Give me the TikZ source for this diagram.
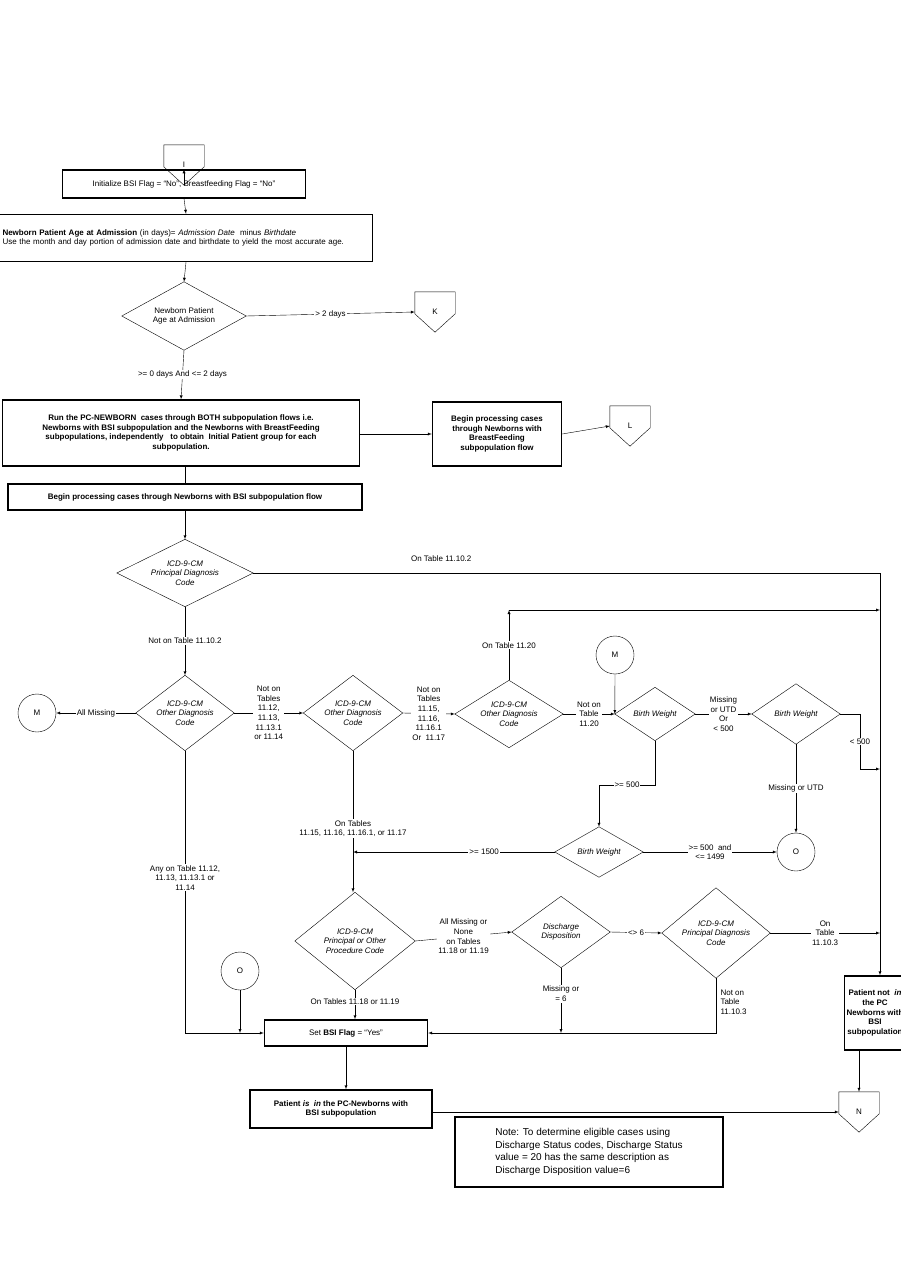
\documentclass[tikz,border=0pt]{standalone}
\usepackage{fontspec}
\setmainfont{Liberation Sans}
\usetikzlibrary{calc,positioning,arrows}

\begin{document}
\begin{tikzpicture}[x=1pt,y=-1pt,>=latex,thin,font=\fontsize{8}{9.6}\selectfont]
	\tikzstyle{box}=[draw,line width=1.4pt,inner sep=2pt,align=center]
	\tikzstyle{cond}=[inner sep=0pt,align=center,font=\fontsize{8}{9.6}\selectfont\itshape]
	\tikzstyle{conn}=[draw,circle,minimum size=38pt,inner sep=0pt]
	\tikzstyle{page}=[minimum width=40pt,minimum height=40pt,inner sep=0pt]
	\tikzstyle{lbl}=[fill=white,inner sep=1pt,align=center]

	\useasboundingbox (0,0) rectangle (901,1287);

	% off-page connectors
	\node[page] (I) at (184,165) {I};
	\node[page] (K) at (435,312) {K};
	\node[page] (L) at (630,426) {L};
	\node[page] (N) at (859,1112) {N};
	\foreach \p in {I,K,L,N}
		\draw (\p.north west) -- (\p.north east) -- ($(\p.north east)+(0,22)$) -- (\p.south) -- ($(\p.north west)+(0,22)$) -- cycle;

	\node[box,minimum width=243pt,minimum height=28pt] (init) at (184,184)
		{Initialize BSI Flag = ``No'', Breastfeeding Flag = ``No''};
	\node[box,minimum width=373pt,minimum height=47pt,align=left,text width=367pt] (age) at (186,238)
		{\textbf{Newborn Patient Age at Admission} (in days)= \textit{Admission Date}\ \ minus \textit{Birthdate}\\
		Use the month and day portion of admission date and birthdate to yield the most accurate age.};
	\node[cond,minimum width=124pt,minimum height=68pt,font=\fontsize{8}{9.6}\selectfont] (d1) at (184,316)
		{Newborn Patient\\Age at Admission};
	\node[box,minimum width=357pt,minimum height=66pt,font=\fontsize{8}{9.6}\selectfont\bfseries] (run) at (181,433)
		{Run the PC-NEWBORN\ \ cases through BOTH subpopulation flows i.e.\\
		Newborns with BSI subpopulation and the Newborns with BreastFeeding\\
		subpopulations, independently\ \ \ to obtain\ \ Initial Patient group for each\\
		subpopulation.};
	\node[box,minimum width=129pt,minimum height=64pt,font=\fontsize{8}{9.6}\selectfont\bfseries] (bf) at (497,434)
		{Begin processing cases\\through Newborns with\\BreastFeeding\\subpopulation flow};
	\node[box,minimum width=354pt,minimum height=26pt,font=\fontsize{8}{9.6}\selectfont\bfseries] (bsi) at (185,497)
		{Begin processing cases through Newborns with BSI subpopulation flow};

	% decisions
	\node[cond,minimum width=136pt,minimum height=67pt] (d2) at (185,573) {ICD-9-CM\\Principal Diagnosis\\Code};
	\node[cond,minimum width=98pt,minimum height=75pt] (d3) at (185,713) {ICD-9-CM\\Other Diagnosis\\Code};
	\node[cond,minimum width=99pt,minimum height=75pt] (d4) at (353,713) {ICD-9-CM\\Other Diagnosis\\Code};
	\node[cond,minimum width=108pt,minimum height=67pt] (d5) at (509,714) {ICD-9-CM\\Other Diagnosis\\Code};
	\node[cond,minimum width=80pt,minimum height=53pt] (d6) at (655,714) {Birth Weight};
	\node[cond,minimum width=88pt,minimum height=60pt] (d7) at (796,714) {Birth Weight};
	\node[cond,minimum width=88pt,minimum height=50pt] (d8) at (599,852) {Birth Weight};
	\node[cond,minimum width=120pt,minimum height=97pt] (d9) at (355,941) {ICD-9-CM\\Principal or Other\\Procedure Code};
	\node[cond,minimum width=98pt,minimum height=71pt] (d10) at (561,932) {Discharge\\Disposition};
	\node[cond,minimum width=108pt,minimum height=90pt] (d11) at (716,933) {ICD-9-CM\\Principal Diagnosis\\Code};
	\foreach \d in {d1,d2,d3,d4,d5,d6,d7,d8,d9,d10,d11}
		\draw (\d.north) -- (\d.east) -- (\d.south) -- (\d.west) -- cycle;

	\node[conn] (M1) at (37,713) {M};
	\node[conn] (M2) at (615,655) {M};
	\node[conn] (O1) at (796,852) {O};
	\node[conn] (O2) at (240,971) {O};

	\node[box,minimum width=163pt,minimum height=26pt] (set) at (346,1033) {Set \textbf{BSI Flag} = ``Yes''};
	\node[box,minimum width=182pt,minimum height=38pt,font=\fontsize{8}{9.6}\selectfont\bfseries] (pis) at (341,1109)
		{Patient \textit{is}\ \ \textit{in} the PC-Newborns with\\BSI subpopulation};
	\node[box,minimum width=56pt,minimum height=74pt,font=\fontsize{8}{9.6}\selectfont\bfseries] (pnot) at (875,1013)
		{Patient not\ \ \textit{in}\\the PC\\Newborns with\\BSI\\subpopulation};
	\node[draw,line width=1.2pt,minimum width=268pt,minimum height=70pt,align=left,inner sep=3pt,
		font=\fontsize{10}{12.5}\selectfont] (note) at (589,1152)
		{Note: To determine eligible cases using\\Discharge Status codes, Discharge Status\\
		value = 20 has the same description as\\Discharge Disposition value=6};

	\coordinate (rA) at (880,573);
	\coordinate (t1) at (509,610);
	\coordinate (t2) at (880,610);

	% connectors
	\draw[->] (I.south) -- (init.north);
	\draw[->] (init.south) -- (age.north);
	\draw[->] (age.south) -- (d1.north);
	\draw[->] (d1.east) -- node[lbl]{> 2 days} (K.west);
	\draw[->] (d1.south) -- node[lbl]{>= 0 days And <= 2 days} (run.north);
	\draw[->] (run.east |- bf.west) -- (bf.west);
	\draw[->] (bf.east) -- (L.west);
	\draw (run.south -| bsi.north) -- (bsi.north);
	\draw[->] (bsi.south) -- (d2.north);
	\draw[->] (d2.east) -- node[above=8pt,pos=0.3]{On Table 11.10.2} (rA) -- (pnot.north -| rA);
	\draw[->] (d2.south) -- node[lbl]{Not on Table 11.10.2} (d3.north);
	\draw[->] (d3.west) -- node[lbl]{All Missing} (M1.east);
	\draw[->] (d3.east) -- node[lbl]{Not on\\Tables\\11.12,\\11.13,\\11.13.1\\or 11.14} (d4.west);
	\draw[->] (d4.east) -- node[lbl]{Not on\\Tables\\11.15,\\11.16,\\11.16.1\\Or\ \ 11.17} (d5.west);
	\draw[->] (d5.north) -- node[lbl]{On Table 11.20} (t1);
	\draw[->] (t1) -- (t2);
	\draw[->] (d5.east) -- node[lbl]{Not on\\Table\\11.20} (d6.west);
	\draw[->] (M2.south) -- (d6.west);
	\draw[->] (d6.east) -- node[lbl]{Missing\\or UTD\\Or\\< 500} (d7.west);
	\draw[->] (d7.east) -- (860,714) -- node[lbl]{< 500} (860,769) -- (880,769);
	\draw[->] (d7.south) -- node[lbl]{Missing or UTD} (O1.north);
	\draw[->] (d6.south) -- (655,785) -- node[lbl]{>= 500} (599,785) -- (d8.north);
	\draw[->] (d8.east) -- node[lbl]{>= 500\ \ and\\<= 1499} (O1.west);
	\draw[->] (d8.west) -- node[lbl,pos=0.35]{>= 1500} (d4.south |- d8.west);
	\draw[->] (d4.south) -- node[lbl,pos=0.55]{On Tables\\11.15, 11.16, 11.16.1, or 11.17} (d9.north -| d4.south);
	\draw[->] (d9.east) -- node[lbl]{All Missing or\\None\\on Tables\\11.18 or 11.19} (d10.west);
	\draw[->] (d9.south) -- node[lbl,pos=0.4]{On Tables 11.18 or 11.19} (d9.south |- set.north);
	\draw[->] (O2.south) -- (O2.south |- set.west);
	\draw[->] (d3.south) -- node[lbl,pos=0.45]{Any on Table 11.12,\\11.13, 11.13.1 or\\11.14} (d3.south |- set.west) -- (set.west);
	\draw[->] (d10.south) -- node[lbl,pos=0.4]{Missing or\\= 6} (d10.south |- set.east);
	\draw[->] (d10.east) -- node[lbl]{<> 6} (d11.west);
	\draw[->] (d11.south) -- node[right=1pt,pos=0.45]{\begin{tabular}{@{}l@{}}Not on\\Table\\11.10.3\end{tabular}} (d11.south |- set.east) -- (set.east);
	\draw[->] (d11.east) -- node[lbl]{On\\Table\\11.10.3} (d11.east -| rA);
	\draw[->] (set.south) -- (set.south |- pis.north);
	\draw[->] (pis.east |- N.west) -- (N.west);
	\draw[->] (pnot.south -| N.north) -- (N.north);

\end{tikzpicture}
\end{document}
